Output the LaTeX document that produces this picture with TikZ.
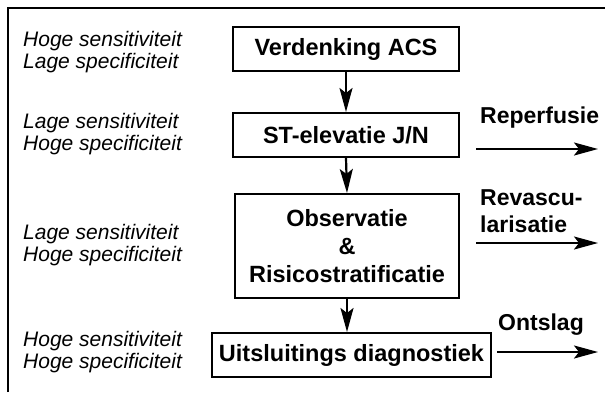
\documentclass[tikz,border=0pt]{standalone}
\usepackage{fontspec}
\setmainfont{Liberation Sans}
\usetikzlibrary{arrows.meta}
\begin{document}
\begin{tikzpicture}[x=1pt,y=-1pt,
  box/.style={draw,line width=2pt,rectangle,inner sep=0pt,align=center,font=\fontsize{23.5}{28}\selectfont\bfseries},
  side/.style={anchor=west,align=left,inner sep=0pt,font=\fontsize{21}{22}\selectfont\itshape},
  lbl/.style={anchor=west,align=left,inner sep=0pt,font=\fontsize{23}{27}\selectfont\bfseries},
  arr/.style={line width=2.2pt,-{Stealth[length=24pt,width=13pt,inset=5pt]}}]
\useasboundingbox (0,0) rectangle (605,392);
\draw[line width=2pt] (8,392) -- (8,8) -- (605,8);
% left labels
\node[side] (s1) at (23,52) {Hoge sensitiviteit\\Lage specificiteit};
\node[side] (s2) at (23,134.5) {Lage sensitiviteit\\Hoge specificiteit};
\node[side] (s3) at (23,245) {Lage sensitiviteit\\Hoge specificiteit};
\node[side] (s4) at (23,352.5) {Hoge sensitiviteit\\Hoge specificiteit};
% boxes
\node[box,minimum width=226pt,minimum height=44pt] (b1) at (346,49) {Verdenking ACS};
\node[box,minimum width=226pt,minimum height=44pt] (b2) at (346,135) {ST-elevatie J/N};
\node[box,minimum width=224pt,minimum height=104pt] (b3) at (347,246) {Observatie\\\&\\Risicostratificatie};
\node[box,minimum width=279pt,minimum height=44pt] (b4) at (351.5,355) {Uitsluitings diagnostiek};
% vertical arrows
\draw[arr] (b1.south) -- (b2.north);
\draw[arr] (b2.south) -- (b3.north);
\draw[arr] (b3.south) -- (b3.south |- b4.north);
% right arrows
\coordinate (r1s) at (476,149);
\coordinate (r1e) at (598,149);
\coordinate (r2s) at (476,243);
\coordinate (r2e) at (598,243);
\coordinate (r3s) at (497,352);
\coordinate (r3e) at (598,352);
\draw[arr] (r1s) -- (r1e);
\draw[arr] (r2s) -- (r2e);
\draw[arr] (r3s) -- (r3e);
\node[lbl] (l1) at (480,118) {Reperfusie};
\node[lbl] (l2) at (480,211.5) {Revascu-\\larisatie};
\node[lbl] (l3) at (498,325) {Ontslag};
\end{tikzpicture}
\end{document}
